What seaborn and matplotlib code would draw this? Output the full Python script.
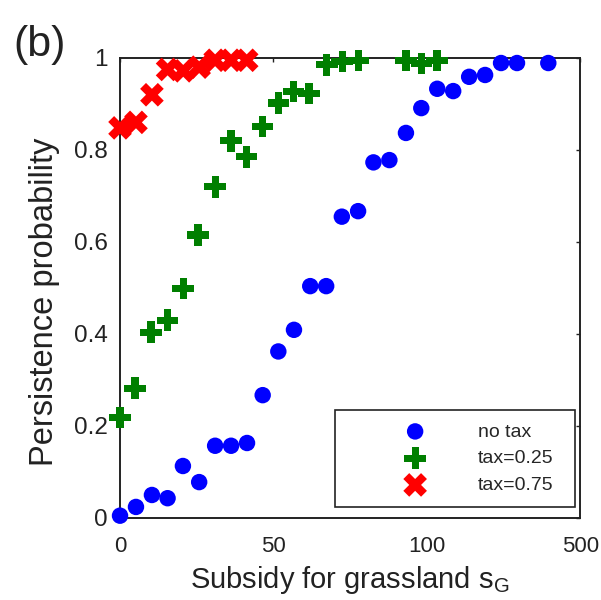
import matplotlib
matplotlib.use("Agg")
import matplotlib.pyplot as plt
import seaborn as sns
import pandas as pd

# Subsidy positions on the axis (0..150, where the last tick stands for 500)
no_tax_x = [0, 5.2, 10.4, 15.5, 20.5, 25.8, 31.0, 36.2, 41.4, 46.5, 51.6, 56.7,
            62.0, 67.2, 72.3, 77.6, 82.6, 87.8, 93.2, 98.2, 103.4, 108.6,
            113.8, 119.0, 124.2, 129.4, 139.6]
no_tax_p = [0.005, 0.024, 0.050, 0.043, 0.113, 0.078, 0.157, 0.157, 0.163,
            0.267, 0.362, 0.409, 0.504, 0.504, 0.655, 0.667, 0.773, 0.778,
            0.837, 0.891, 0.933, 0.928, 0.959, 0.963, 0.989, 0.989, 0.989]

tax25_x = [0, 4.9, 10.1, 15.4, 20.6, 25.4, 31.0, 36.2, 41.3, 46.4, 51.6, 56.5,
           61.6, 67.4, 72.4, 77.7, 93.2, 98.2, 103.3]
tax25_p = [0.218, 0.282, 0.404, 0.430, 0.499, 0.615, 0.720, 0.820, 0.785,
           0.851, 0.902, 0.927, 0.923, 0.985, 0.992, 0.995, 0.995, 0.988, 0.995]

tax75_x = [0, 5.2, 10.4, 15.5, 20.6, 25.8, 31.0, 36.2, 41.3]
tax75_p = [0.848, 0.860, 0.920, 0.975, 0.972, 0.980, 0.995, 0.995, 0.995]

x_ticks = [0, 50, 100, 150]
x_tick_labels = ["0", "50", "100", "500"]
y_ticks = [0, 0.2, 0.4, 0.6, 0.8, 1.0]
y_tick_labels = ["0", "0.2", "0.4", "0.6", "0.8", "1"]

sns.set_theme(style="white")
plt.rcParams["font.family"] = ["Liberation Sans", "DejaVu Sans"]
plt.rcParams["mathtext.fontset"] = "custom"
plt.rcParams["mathtext.rm"] = "Liberation Sans"
plt.rcParams["mathtext.it"] = "Liberation Sans"

fig = plt.figure(figsize=(6.01, 6.0), dpi=100)
ax = fig.add_axes([0.1997, 0.1367, 0.7657, 0.7667])

df_none = pd.DataFrame({"s": no_tax_x, "p": no_tax_p})
df_25 = pd.DataFrame({"s": tax25_x, "p": tax25_p})
df_75 = pd.DataFrame({"s": tax75_x, "p": tax75_p})

sns.scatterplot(data=df_none, x="s", y="p", ax=ax, marker="o", s=140,
                color="#0000ff", edgecolor="none", linewidth=0,
                label="no tax", legend=False, clip_on=False, zorder=3)
sns.scatterplot(data=df_25, x="s", y="p", ax=ax, marker="P", s=240,
                color="#007f00", edgecolor="none", linewidth=0,
                label="tax=0.25", legend=False, clip_on=False, zorder=3)
sns.scatterplot(data=df_75, x="s", y="p", ax=ax, marker="X", s=290,
                color="#ff0000", edgecolor="none", linewidth=0,
                label="tax=0.75", legend=False, clip_on=False, zorder=3)

ax.set_xlim(0, 150)
ax.set_ylim(0, 1)
ax.set_xticks(x_ticks)
ax.set_xticklabels(x_tick_labels)
ax.set_yticks(y_ticks)
ax.set_yticklabels(y_tick_labels)

for side in ["left", "right", "top", "bottom"]:
    ax.spines[side].set_visible(True)
    ax.spines[side].set_color("#222222")
    ax.spines[side].set_linewidth(1.4)

ax.tick_params(axis="both", which="both", direction="in", length=3,
               width=1.0, color="#222222", top=True, right=True,
               labelcolor="#222222")
ax.tick_params(axis="x", pad=13, labelsize=16)
ax.tick_params(axis="y", pad=9, labelsize=17.5)

ax.set_xlabel(r"Subsidy for grassland s$\mathregular{_G}$", fontsize=21,
              color="#222222", labelpad=5)
ax.set_ylabel("Persistence probability", fontsize=23.5, color="#222222")
ax.yaxis.set_label_coords(-0.131, 0.47)

leg = ax.legend(loc="lower left", bbox_to_anchor=(0.467, 0.0246, 0.522, 0.2044),
                mode="expand", borderaxespad=0, borderpad=0.65,
                handlelength=6.95, handletextpad=-0.24, labelspacing=0.47,
                fontsize=14, frameon=True, fancybox=False, scatterpoints=1)
leg.get_frame().set_edgecolor("#222222")
leg.get_frame().set_linewidth(1.2)
leg.get_frame().set_facecolor("white")
leg.get_frame().set_alpha(1)

fig.text(0.022, 0.958, "(b)", fontsize=31, va="top", ha="left",
         color="#222222")

fig.savefig("out.png", dpi=100, facecolor="white")
